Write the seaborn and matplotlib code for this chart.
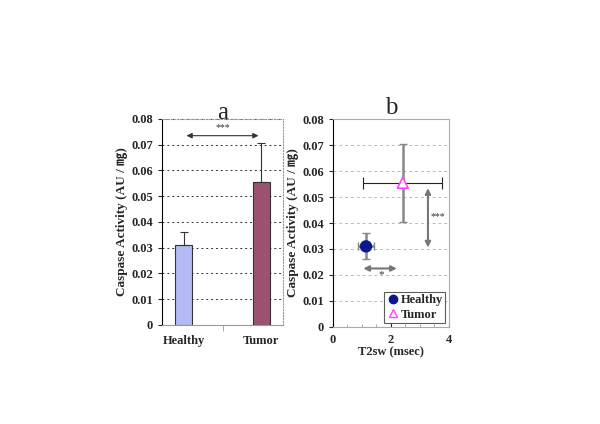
# Caspase activity: bar chart (a) and T2sw scatter (b)
import numpy as np
import pandas as pd
import matplotlib
matplotlib.use('Agg')
import matplotlib.pyplot as plt
import seaborn as sns
from matplotlib.lines import Line2D

# Data
groups = ['Healthy', 'Tumor']
caspase = [0.031, 0.0555]
caspase_err = [0.005, 0.015]
t2sw = [1.14, 2.41]
t2sw_err = [0.26, 1.37]
bar_colors = ['#aab0ff', '#a8456f']
y_ticks = [0, 0.01, 0.02, 0.03, 0.04, 0.05, 0.06, 0.07, 0.08]
y_tick_labels = ['0', '0.01', '0.02', '0.03', '0.04', '0.05', '0.06', '0.07', '0.08']
x_ticks_b = [0, 2, 4]

sns.set_style('white')
plt.rcParams['font.family'] = ['Liberation Serif', 'Noto Sans CJK JP', 'DejaVu Sans']

df = pd.DataFrame({'group': groups, 'caspase': caspase, 'err': caspase_err,
                   't2sw': t2sw, 't2err': t2sw_err})

fig = plt.figure(figsize=(6, 4.24), dpi=100)
ax1 = fig.add_axes([0.27, 0.2335, 0.2017, 0.486])
ax2 = fig.add_axes([0.555, 0.229, 0.193, 0.49])

ylabel = 'Caspase Activity (AU / ㎎)'

# ---- panel a ----
sns.barplot(data=df, x='group', y='caspase', hue='group', palette=bar_colors,
            width=0.22, edgecolor='#333333', linewidth=0.8, legend=False, ax=ax1)
ax1.errorbar(range(len(groups)), caspase, yerr=[[0, 0], caspase_err], fmt='none',
             ecolor='#333333', elinewidth=0.8, capsize=3, capthick=0.8)
ax1.set_xlim(-0.28, 1.28)
ax1.set_ylim(0, 0.08)
ax1.set_yticks(y_ticks)
ax1.set_yticklabels(y_tick_labels, fontweight='bold', fontsize=9)
ax1.set_xticks([0, 1])
ax1.set_xticklabels(groups, fontweight='bold', fontsize=9)
ax1.set_xticks([0.5], minor=True)
ax1.tick_params(axis='x', which='major', length=0, pad=7)
ax1.tick_params(axis='x', which='minor', length=4, direction='out', bottom=True, color='#999999')
ax1.tick_params(axis='y', length=3, direction='out', left=True)
ax1.set_xlabel('')
ax1.set_ylabel(ylabel, fontweight='bold', fontsize=9.5, labelpad=2)
ax1.yaxis.grid(True, linestyle=(0, (2, 3)), color='#333333', linewidth=0.7)
ax1.set_axisbelow(True)
for s in ['top', 'right']:
    ax1.spines[s].set_linestyle(':')
    ax1.spines[s].set_color('#999999')
ax1.spines['bottom'].set_color('#999999')
ax1.spines['left'].set_color('black')
ax1.annotate('', xy=(0.0, 0.0735), xytext=(1.0, 0.0735),
             arrowprops=dict(arrowstyle='<|-|>', color='#333333', lw=0.8, mutation_scale=8))
ax1.text(0.5, 0.0748, '***', ha='center', va='bottom', fontsize=7, color='#333333')
ax1.set_title('a', fontsize=18, pad=0)

# ---- panel b ----
ax2.errorbar(t2sw[0], caspase[0], yerr=caspase_err[0], xerr=t2sw_err[0], fmt='none',
             ecolor='#888888', elinewidth=1.8, capsize=3, capthick=1)
ax2.errorbar(t2sw[1], caspase[1], yerr=caspase_err[1], fmt='none',
             ecolor='#888888', elinewidth=1.8, capsize=3, capthick=1)
ax2.errorbar(t2sw[1], caspase[1], xerr=t2sw_err[1], fmt='none',
             ecolor='#222222', elinewidth=0.8, capsize=4, capthick=0.8)
sns.scatterplot(data=df, x='t2sw', y='caspase', hue='group', style='group',
                markers={'Healthy': 'o', 'Tumor': '^'},
                palette={'Healthy': '#0a1a8c', 'Tumor': '#ff44ff'}, s=60, ax=ax2,
                legend=False, zorder=5)
# tumor is an open triangle
pts = ax2.collections[-1]
fc = pts.get_facecolors()
fc[1] = [1, 1, 1, 1]
pts.set_facecolors(fc)
pts.set_edgecolors(['#0a1a8c', '#ff44ff'])
pts.set_linewidths(1.2)

ax2.set_xlim(0, 4)
ax2.set_ylim(0, 0.08)
ax2.set_yticks(y_ticks)
ax2.set_yticklabels(y_tick_labels, fontweight='bold', fontsize=9)
ax2.set_xticks(x_ticks_b)
ax2.set_xticklabels([str(v) for v in x_ticks_b], fontweight='bold', fontsize=9)
ax2.set_xticks(np.arange(0, 4.01, 0.5), minor=True)
ax2.tick_params(axis='x', which='major', length=3, direction='in', bottom=True, pad=5)
ax2.tick_params(axis='x', which='minor', length=2, direction='in', bottom=True, color='#999999')
ax2.tick_params(axis='y', length=3, direction='out', left=True)
ax2.set_xlabel('T2sw (msec)', fontweight='bold', fontsize=9, labelpad=0)
ax2.set_ylabel(ylabel, fontweight='bold', fontsize=9.5, labelpad=2)
ax2.yaxis.grid(True, linestyle=(0, (3, 3)), color='#bbbbbb', linewidth=0.7)
ax2.set_axisbelow(True)
for s in ['top', 'right', 'bottom']:
    ax2.spines[s].set_color('#aaaaaa')
ax2.spines['left'].set_color('black')
ax2.annotate('', xy=(0.95, 0.0225), xytext=(2.3, 0.0225),
             arrowprops=dict(arrowstyle='<|-|>', color='#777777', lw=1.5, mutation_scale=8))
ax2.text(1.65, 0.0218, '*', ha='center', va='top', fontsize=8, color='#333333')
ax2.annotate('', xy=(3.28, 0.0545), xytext=(3.28, 0.0295),
             arrowprops=dict(arrowstyle='<|-|>', color='#777777', lw=1.5, mutation_scale=8))
ax2.text(3.38, 0.0425, '***', ha='left', va='center', fontsize=7, color='#333333')
ax2.set_title('b', fontsize=18, pad=0)

handles = [Line2D([], [], marker='o', linestyle='none', color='#0a1a8c', markersize=6),
           Line2D([], [], marker='^', linestyle='none', markerfacecolor='white',
                  markeredgecolor='#ff44ff', markersize=6)]
leg = ax2.legend(handles, groups, loc='lower right', bbox_to_anchor=(1.0, 0.0),
                 prop={'weight': 'bold', 'size': 9}, frameon=True, fancybox=False,
                 handletextpad=0.1, borderpad=0.2, labelspacing=0.2,
                 handlelength=1.0, borderaxespad=0.3)
leg.get_frame().set_edgecolor('#333333')
leg.get_frame().set_linewidth(0.8)

fig.savefig('out.png', dpi=100)
